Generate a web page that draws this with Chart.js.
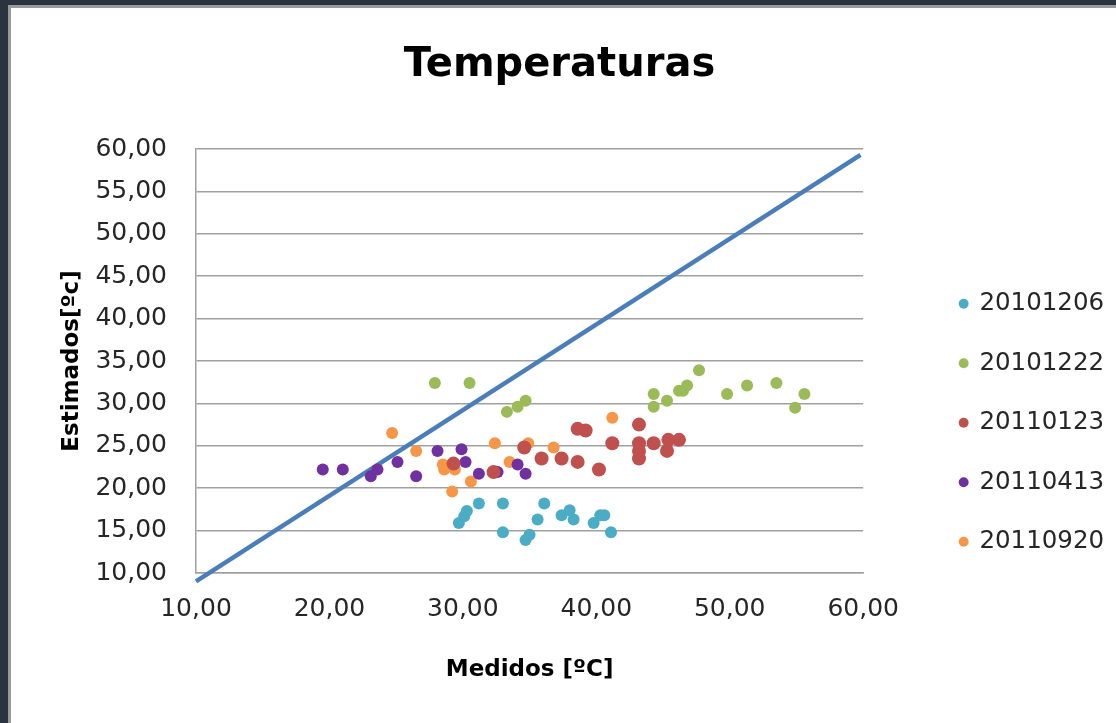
<!DOCTYPE html>
<html>
<head>
<meta charset="utf-8">
<script src="https://cdn.jsdelivr.net/npm/chart.js@4/dist/chart.umd.min.js"></script>
<style>
  html, body { margin: 0; padding: 0; }
  body { width: 1116px; height: 723px; background: #2a343f; position: relative; overflow: hidden; }
  #panel { position: absolute; left: 8px; top: 5px; right: 0; bottom: 0; background: #fff;
           border-left: 3px solid #9a9a9a; border-top: 3px solid #9a9a9a; }
  #wrap { position: absolute; left: 0; top: 0; width: 1105px; height: 715px; }
</style>
</head>
<body>
<div id="panel"><div id="wrap"><canvas id="chart"></canvas></div></div>
<script>
// Medidos (x) / Estimados (y) per fecha
const seriesNames = ['20101206', '20101222', '20110123', '20110413', '20110920'];
const seriesColors = ['#4bacc6', '#9bbb59', '#c0504d', '#7030a0', '#f79646'];

const x20101206 = [29.7, 30.1, 30.3, 31.2, 33.0, 33.0, 34.7, 35.0, 35.6, 36.1, 37.4, 38.0, 38.3, 39.8, 40.3, 40.6, 41.1];
const y20101206 = [15.9, 16.7, 17.3, 18.2, 18.2, 14.8, 13.9, 14.5, 16.3, 18.2, 16.8, 17.4, 16.3, 15.9, 16.8, 16.8, 14.8];

const x20101222 = [27.9, 30.5, 33.3, 34.1, 34.7, 44.3, 44.3, 45.3, 46.2, 46.5, 46.8, 47.7, 49.8, 51.3, 53.5, 54.9, 55.6];
const y20101222 = [32.4, 32.4, 29.0, 29.6, 30.3, 31.1, 29.6, 30.3, 31.5, 31.5, 32.1, 33.9, 31.1, 32.1, 32.4, 29.5, 31.1];

const x20110123 = [29.3, 32.3, 34.6, 35.9, 37.4, 38.6, 38.6, 39.2, 40.2, 41.2, 43.2, 43.2, 43.2, 43.2, 44.3, 45.3, 45.4, 46.2];
const y20110123 = [22.9, 21.9, 24.8, 23.5, 23.5, 23.1, 27.0, 26.8, 22.2, 25.3, 27.5, 25.3, 24.4, 23.5, 25.3, 24.4, 25.7, 25.7];

const x20110413 = [19.5, 21.0, 23.1, 23.6, 25.1, 26.5, 28.1, 29.9, 30.2, 31.2, 32.6, 34.1, 34.7];
const y20110413 = [22.2, 22.2, 21.4, 22.2, 23.1, 21.4, 24.4, 24.6, 23.1, 21.7, 21.9, 22.8, 21.7];

const x20110920 = [24.7, 26.5, 28.5, 28.6, 29.4, 29.2, 30.6, 32.4, 33.5, 34.9, 36.8, 41.2];
const y20110920 = [26.5, 24.4, 22.8, 22.2, 22.2, 19.6, 20.8, 25.3, 23.1, 25.3, 24.8, 28.3];

// recta de referencia
const lineX = [10, 59.8];
const lineY = [9.0, 59.3];

const xs = [x20101206, x20101222, x20110123, x20110413, x20110920];
const ys = [y20101206, y20101222, y20110123, y20110413, y20110920];

const toPoints = (xv, yv) => xv.map((x, i) => ({x: x, y: yv[i]}));
const fmt = v => Number(v).toFixed(2).replace('.', ',');

const FONT = "'DejaVu Sans', sans-serif";

const datasets = seriesNames.map((name, i) => ({
    type: 'scatter',
    label: name,
    data: toPoints(xs[i], ys[i]),
    backgroundColor: seriesColors[i],
    borderColor: seriesColors[i],
    pointRadius: i === 2 ? 7 : 6,
    pointHoverRadius: 7,
    borderWidth: 0,
    order: 1
}));

datasets.push({
    type: 'line',
    label: 'recta',
    data: toPoints(lineX, lineY),
    borderColor: '#4a7ebb',
    borderWidth: 4.5,
    pointRadius: 0,
    fill: false,
    clip: false,
    order: 2
});

const chartConfig = {
    type: 'scatter',
    data: { datasets: datasets },
    options: {
        responsive: true,
        maintainAspectRatio: false,
        animation: false,
        layout: { padding: { left: 0, right: 8, top: 0, bottom: 0 } },
        scales: {
            x: {
                type: 'linear',
                min: 10,
                max: 60,
                ticks: {
                    stepSize: 10,
                    callback: v => fmt(v),
                    font: { family: FONT, size: 25 },
                    color: '#262626',
                    padding: 21,
                    maxRotation: 0
                },
                grid: { display: false, drawTicks: false },
                border: { display: true, color: '#a0a0a0', width: 1.5 },
                title: {
                    display: true,
                    text: 'Medidos [ºC]',
                    font: { family: FONT, size: 23, weight: 'bold' },
                    color: '#000',
                    padding: { top: 0, bottom: 39 }
                },
                afterFit: s => { s.height = 150; }
            },
            y: {
                type: 'linear',
                min: 10,
                max: 60,
                ticks: {
                    stepSize: 5,
                    callback: v => fmt(v),
                    font: { family: FONT, size: 25 },
                    color: '#262626',
                    padding: 29
                },
                grid: { color: '#a0a0a0', lineWidth: 1.5, drawTicks: false },
                border: { display: true, color: '#a0a0a0', width: 1.5 },
                title: {
                    display: true,
                    text: 'Estimados[ºc]',
                    font: { family: FONT, size: 23, weight: 'bold' },
                    color: '#000',
                    padding: { top: 47, bottom: 0 }
                },
                afterFit: s => { s.width = 185; }
            },
            gap: {
                type: 'linear',
                position: 'right',
                display: true,
                ticks: { display: false },
                grid: { display: false, drawTicks: false },
                border: { display: false },
                afterFit: s => { s.width = 62; }
            }
        },
        plugins: {
            title: {
                display: true,
                text: 'Temperaturas',
                font: { family: FONT, size: 40, weight: 'bold' },
                color: '#000',
                padding: { top: 34, bottom: 59 }
            },
            legend: {
                position: 'right',
                align: 'center',
                title: {
                    display: true,
                    text: ' ',
                    font: { size: 12 },
                    padding: { top: 0, bottom: 100 }
                },
                labels: {
                    usePointStyle: true,
                    pointStyle: 'circle',
                    boxWidth: 7,
                    boxHeight: 7,
                    padding: 35,
                    font: { family: FONT, size: 24.5 },
                    color: '#262626',
                    filter: item => item.datasetIndex < seriesNames.length
                }
            },
            tooltip: { enabled: false }
        }
    }
};

window.onload = () => {
    new Chart(document.getElementById('chart'), chartConfig);
};
</script>
</body>
</html>
